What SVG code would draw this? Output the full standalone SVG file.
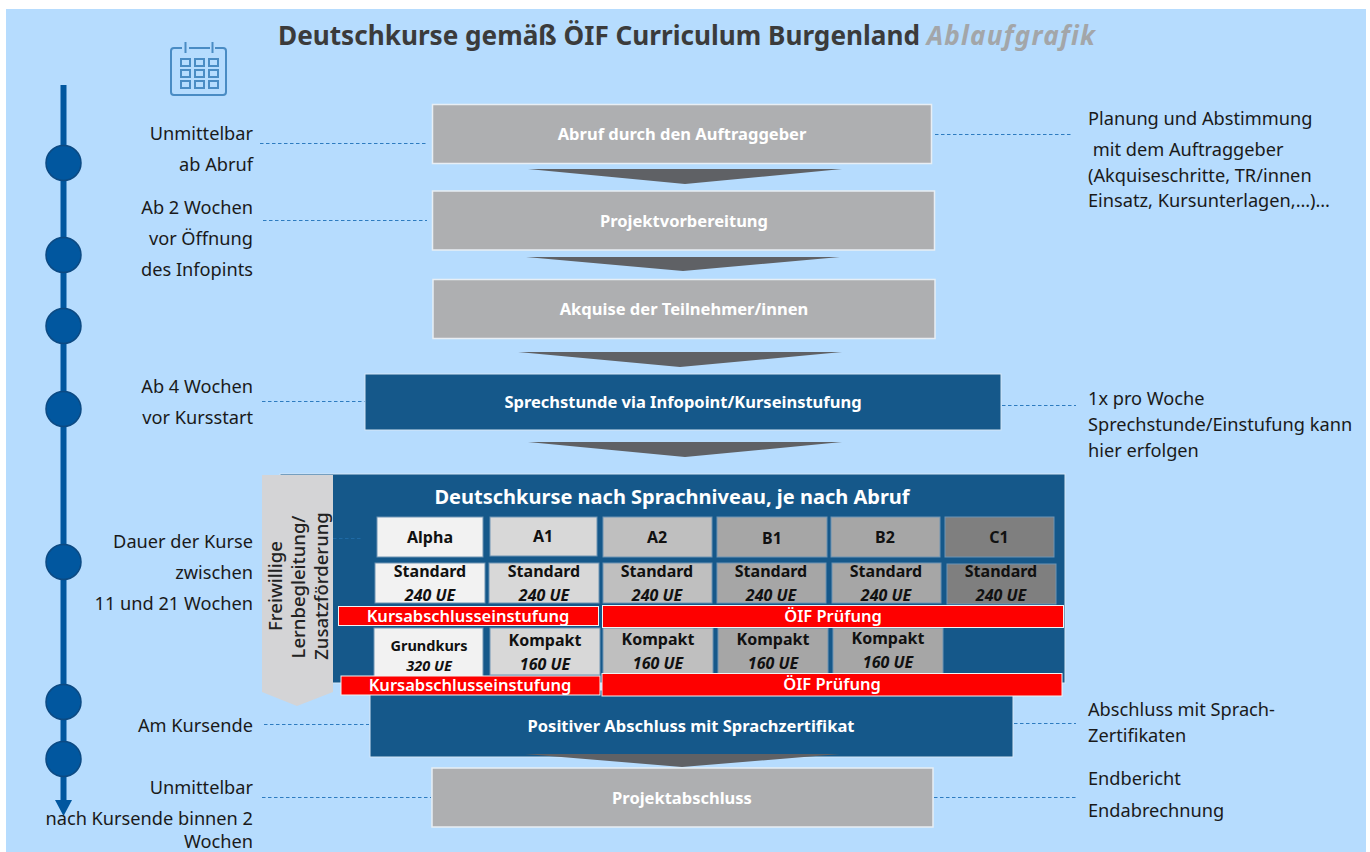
<svg xmlns="http://www.w3.org/2000/svg" width="1370" height="852" viewBox="0 0 1370 852">
<style>
text{font-family:"Noto Sans","Open Sans","Liberation Sans",sans-serif}
.l{font-size:18.200px;fill:#1a1a1a;text-anchor:end}
.r{font-size:18.200px;fill:#1a1a1a}
.w{font-size:16.500px;font-weight:700;fill:#fff;text-anchor:middle}
.g{fill:#aeafb1;stroke:#e8eef4;stroke-width:1.5}
.b{fill:#15588a;stroke:#d5e6f5;stroke-width:1}
.tri{fill:#5f6165}
.dash{fill:none;stroke:#2e7cc0;stroke-width:1;stroke-dasharray:3.5 2.5}
.dot{fill:#01579f;stroke:#0c4a83;stroke-width:1.5}
.c{stroke:#6f94b3;stroke-width:1}
.h{font-size:16px;font-weight:700;fill:#111;text-anchor:middle}
.i{font-size:16px;font-weight:700;font-style:italic;fill:#111;text-anchor:middle}
.red{fill:#fe0000;stroke:#f2f2f2;stroke-width:1}
.rt{font-size:16.500px;font-weight:600;fill:#fff;text-anchor:middle}
</style>
<rect x="6" y="9" width="1360" height="843" fill="#b6dcfe"/>
<g id="title">
<text x="278" y="45" font-size="26.150" font-weight="700" fill="#3b3b3b">Deutschkurse gemäß ÖIF Curriculum Burgenland <tspan font-style="italic" fill="#a3a6a9" letter-spacing="1.200">Ablaufgrafik</tspan></text>
</g>
<g id="calendar" fill="none" stroke="#4a8cc4" stroke-width="2">
<path d="M182 48h-8a3 3 0 0 0-3 3v41a3 3 0 0 0 3 3h49a3 3 0 0 0 3-3v-41a3 3 0 0 0-3-3h-8M189 48h21M185.500 42v11M212.500 42v11"/>
<rect x="181" y="59" width="9" height="7"/><rect x="195" y="59" width="9" height="7"/><rect x="209" y="59" width="9" height="7"/>
<rect x="181" y="70" width="9" height="7"/><rect x="195" y="70" width="9" height="7"/><rect x="209" y="70" width="9" height="7"/>
<rect x="181" y="81" width="9" height="7"/><rect x="195" y="81" width="9" height="7"/><rect x="209" y="81" width="9" height="7"/>
</g>
<g id="connectors">
<path d="M63.500 85V803" stroke="#01579f" stroke-width="6" fill="none"/>
<path d="M55 800H72L63.500 816Z" fill="#01579f"/>
<path class="dash" d="M260 143.500H426M263 220.500H427M262 401.500H365M264 724.500H369M262 797.500H431M935 134.500H1071M1002 405.500H1076M1014 723.500H1076M934 797.500H1076"/>
</g>
<g id="timeline-dots">
<circle class="dot" cx="63.500" cy="163" r="17.500"/>
<circle class="dot" cx="63.500" cy="255" r="17.500"/>
<circle class="dot" cx="63.500" cy="326" r="17.500"/>
<circle class="dot" cx="63.500" cy="409" r="17.500"/>
<circle class="dot" cx="63.500" cy="562" r="17.500"/>
<circle class="dot" cx="63.500" cy="702" r="17.500"/>
<circle class="dot" cx="63.500" cy="759" r="17.500"/>
</g>
<g id="labels-left">
<text class="l" x="253" y="140">Unmittelbar</text>
<text class="l" x="253" y="171">ab Abruf</text>
<text class="l" x="253" y="214">Ab 2 Wochen</text>
<text class="l" x="253" y="245">vor Öffnung</text>
<text class="l" x="253" y="276">des Infopints</text>
<text class="l" x="253" y="393">Ab 4 Wochen</text>
<text class="l" x="253" y="424">vor Kursstart</text>
<text class="l" x="253" y="548">Dauer der Kurse</text>
<text class="l" x="253" y="579">zwischen</text>
<text class="l" x="253" y="610">11 und 21 Wochen</text>
<text class="l" x="253" y="732">Am Kursende</text>
<text class="l" x="253" y="794">Unmittelbar</text>
<text class="l" x="253" y="825">nach Kursende binnen 2</text>
<text class="l" x="253" y="848">Wochen</text>
</g>
<g id="labels-right">
<text class="r" x="1088" y="125">Planung und Abstimmung</text>
<text class="r" x="1088" y="156" xml:space="preserve"> mit dem Auftraggeber</text>
<text class="r" x="1088" y="182">(Akquiseschritte, TR/innen</text>
<text class="r" x="1088" y="207">Einsatz, Kursunterlagen,…)…</text>
<text class="r" x="1088" y="405">1x pro Woche</text>
<text class="r" x="1088" y="431">Sprechstunde/Einstufung kann</text>
<text class="r" x="1088" y="457">hier erfolgen</text>
<text class="r" x="1088" y="716">Abschluss mit Sprach-</text>
<text class="r" x="1088" y="742">Zertifikaten</text>
<text class="r" x="1088" y="785">Endbericht</text>
<text class="r" x="1088" y="817">Endabrechnung</text>
</g>
<g id="node-abruf"><rect class="g" x="432.500" y="104.500" width="499" height="59"/><text class="w" x="682" y="140">Abruf durch den Auftraggeber</text></g>
<g id="node-vorbereitung"><rect class="g" x="432.500" y="191" width="502" height="59"/><text class="w" x="684" y="227">Projektvorbereitung</text></g>
<g id="node-akquise"><rect class="g" x="433" y="279.500" width="502" height="59"/><text class="w" x="684" y="315">Akquise der Teilnehmer/innen</text></g>
<g id="node-sprechstunde"><rect class="b" x="365" y="374" width="636" height="56"/><text class="w" x="683" y="408">Sprechstunde via Infopoint/Kurseinstufung</text></g>
<g id="node-abschluss"><rect class="b" x="370" y="690" width="643" height="67"/><text class="w" x="691" y="732">Positiver Abschluss mit Sprachzertifikat</text></g>
<g id="node-projektabschluss"><rect class="g" x="432" y="768" width="501" height="59"/><text class="w" x="682" y="804">Projektabschluss</text></g>
<g id="chevrons">
<path class="tri" d="M528 169H842L685 184Z"/>
<path class="tri" d="M526 257H840L683 271Z"/>
<path class="tri" d="M518 352H842L680 367Z"/>
<path class="tri" d="M528 442H842L685 457Z"/>
<path class="tri" d="M525 754H840L682 767Z"/>
</g>
<g id="node-kurse">
<rect class="b" x="280" y="474" width="785" height="209"/>
<text x="672" y="504" font-size="20" font-weight="700" fill="#fff" text-anchor="middle">Deutschkurse nach Sprachniveau, je nach Abruf</text>
<path d="M333 538.500H362" stroke="#1f6aa5" stroke-width="1" stroke-dasharray="3.5 2.5"/>
</g>
<g id="node-lernbegleitung">
<path d="M262 475H333V692L297 706L262 692Z" fill="#d4d4d6"/>
<g font-size="18.500" font-weight="500" fill="#222" text-anchor="middle">
<text transform="translate(282 586) rotate(-90)">Freiwillige</text>
<text transform="translate(305 587) rotate(-90)">Lernbegleitung/</text>
<text transform="translate(328 586) rotate(-90)">Zusatzförderung</text>
</g>
</g>
<g id="levels">
<rect class="c" x="377" y="517" width="106" height="40" fill="#f2f2f2"/><text class="h" x="430" y="543">Alpha</text>
<rect class="c" x="490" y="517" width="107" height="39" fill="#d8d8d8"/><text class="h" x="543" y="542">A1</text>
<rect class="c" x="603" y="517" width="109" height="40" fill="#bfbfbf"/><text class="h" x="657" y="543">A2</text>
<rect class="c" x="717" y="517" width="110" height="40" fill="#a6a6a6"/><text class="h" x="772" y="544">B1</text>
<rect class="c" x="831" y="517" width="109" height="40" fill="#a6a6a6"/><text class="h" x="885" y="543">B2</text>
<rect class="c" x="945" y="517" width="109" height="40" fill="#7f7f7f"/><text class="h" x="999" y="543">C1</text>
</g>
<g id="standard-row">
<rect class="c" x="375" y="563" width="110" height="40" fill="#f2f2f2"/><text class="h" x="430" y="577">Standard</text><text class="i" x="430" y="601">240 UE</text>
<rect class="c" x="489" y="563" width="110" height="40" fill="#d8d8d8"/><text class="h" x="544" y="577">Standard</text><text class="i" x="544" y="601">240 UE</text>
<rect class="c" x="603" y="563" width="109" height="40" fill="#bfbfbf"/><text class="h" x="657" y="577">Standard</text><text class="i" x="657" y="601">240 UE</text>
<rect class="c" x="717" y="563" width="109" height="40" fill="#a6a6a6"/><text class="h" x="771" y="577">Standard</text><text class="i" x="771" y="601">240 UE</text>
<rect class="c" x="832" y="563" width="109" height="40" fill="#a6a6a6"/><text class="h" x="886" y="577">Standard</text><text class="i" x="886" y="601">240 UE</text>
<rect class="c" x="947" y="564" width="109" height="40" fill="#7f7f7f"/><text class="h" x="1001" y="577">Standard</text><text class="i" x="1001" y="601">240 UE</text>
</g>
<g id="kompakt-row">
<rect class="c" x="374" y="628" width="109" height="50" fill="#f2f2f2"/><text class="h" x="429" y="651" style="font-size:14.500px">Grundkurs</text><text class="i" x="429" y="671" style="font-size:14.500px">320 UE</text>
<rect class="c" x="490" y="628" width="110" height="47" fill="#d8d8d8"/><text class="h" x="545" y="646">Kompakt</text><text class="i" x="545" y="670">160 UE</text>
<rect class="c" x="603" y="628" width="110" height="50" fill="#bfbfbf"/><text class="h" x="658" y="645">Kompakt</text><text class="i" x="658" y="669">160 UE</text>
<rect class="c" x="718" y="628" width="110" height="50" fill="#a6a6a6"/><text class="h" x="773" y="645">Kompakt</text><text class="i" x="773" y="669">160 UE</text>
<rect class="c" x="833" y="628" width="110" height="50" fill="#a6a6a6"/><text class="h" x="888" y="644">Kompakt</text><text class="i" x="888" y="668">160 UE</text>
</g>
<g id="bar-kursabschluss-1"><rect class="red" x="338.500" y="606.500" width="260" height="19"/><text class="rt" x="468" y="622">Kursabschlusseinstufung</text></g>
<g id="bar-oif-1"><rect class="red" x="602.500" y="605.500" width="461" height="22"/><text class="rt" x="833" y="622">ÖIF Prüfung</text></g>
<g id="bar-kursabschluss-2"><rect class="red" x="341" y="676" width="259" height="19"/><text class="rt" x="470" y="691">Kursabschlusseinstufung</text></g>
<g id="bar-oif-2"><rect class="red" x="602" y="673.500" width="460" height="22.500"/><text class="rt" x="832" y="690">ÖIF Prüfung</text></g>
</svg>
